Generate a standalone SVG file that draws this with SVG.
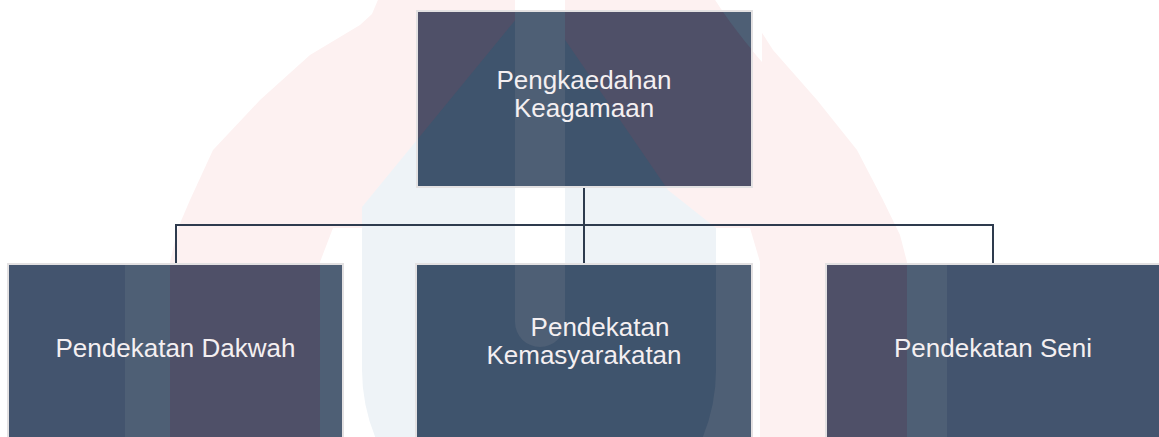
<svg xmlns="http://www.w3.org/2000/svg" xmlns:xlink="http://www.w3.org/1999/xlink" width="1159" height="437" viewBox="0 0 1159 437">
<style>
.box{fill:#43546e;stroke:#e3e1e2;stroke-width:2}
.o-pink{fill:#4f5068}
.o-white{fill:#4e5f75}
.o-blue{fill:#3f546d}
.conn{stroke:#2e3b4e;stroke-width:2;fill:none}
text{font-family:"Liberation Sans",Arial,sans-serif;font-size:26px;fill:#f4eff1;text-anchor:middle}
</style>
<defs>
<path id="wm-pink" d="M170,445 L170,262 L178,228 L190,200 L213,150 L260,100 L310,55 L340,37 L360,25 L372,14 L380,-5 L735,-5 L757,25 L773,50 L817,100 L857,150 L883,200 L900,235 L907,262 L907,445 Z"/>
<path id="wm-white" d="M320,445 V262 L333,228 H362 V300 H716 V228 H750 L760,262 V445 Z M125,240 H170 V445 H125 Z M907,240 H947 V445 H907 Z M712,-5 L762,-5 L762,62 C745,42 726,18 712,-5 Z"/>
<path id="wm-blue" d="M535,-4 L362,207 L362,370 A177,177 0 0 0 716,370 L716,228 L668,190 Z"/>
<path id="wm-strip" d="M515,-5 H565 V322 A25,25 0 0 1 515,322 Z"/>
<clipPath id="c-root"><rect x="418" y="12" width="333" height="174"/></clipPath>
<clipPath id="c-left"><rect x="9" y="265" width="333" height="200"/></clipPath>
<clipPath id="c-mid"><rect x="417" y="265" width="334" height="200"/></clipPath>
<clipPath id="c-right"><rect x="827" y="265" width="340" height="200"/></clipPath>
</defs>
<rect width="1159" height="437" fill="#ffffff"/>
<g id="watermark">
<use href="#wm-pink" fill="#fdf1f1"/>
<use href="#wm-white" fill="#ffffff"/>
<use href="#wm-blue" fill="#eef3f7"/>
<use href="#wm-strip" fill="#ffffff"/>
</g>
<g id="connectors">
<path class="conn" d="M584,187 V264 M176,264 V225 H993 V264"/>
</g>
<g id="node-root">
<rect class="box" x="417" y="11" width="335" height="176"/>
<g clip-path="url(#c-root)"><use href="#wm-pink" class="o-pink"/><use href="#wm-white" class="o-white"/><use href="#wm-blue" class="o-blue"/><use href="#wm-strip" class="o-white"/></g>
<text x="584" y="89">Pengkaedahan</text>
<text x="584" y="117">Keagamaan</text>
</g>
<g id="node-dakwah">
<rect class="box" x="8" y="264" width="335" height="200"/>
<g clip-path="url(#c-left)"><use href="#wm-pink" class="o-pink"/><use href="#wm-white" class="o-white"/><use href="#wm-blue" class="o-blue"/><use href="#wm-strip" class="o-white"/></g>
<text x="175.5" y="357">Pendekatan Dakwah</text>
</g>
<g id="node-kemasyarakatan">
<rect class="box" x="416" y="264" width="336" height="200"/>
<g clip-path="url(#c-mid)"><use href="#wm-pink" class="o-pink"/><use href="#wm-white" class="o-white"/><use href="#wm-blue" class="o-blue"/><use href="#wm-strip" class="o-white"/></g>
<text x="600" y="336">Pendekatan</text>
<text x="584" y="364">Kemasyarakatan</text>
</g>
<g id="node-seni">
<rect class="box" x="826" y="264" width="345" height="200"/>
<g clip-path="url(#c-right)"><use href="#wm-pink" class="o-pink"/><use href="#wm-white" class="o-white"/><use href="#wm-blue" class="o-blue"/><use href="#wm-strip" class="o-white"/></g>
<text x="993" y="357">Pendekatan Seni</text>
</g>
</svg>
